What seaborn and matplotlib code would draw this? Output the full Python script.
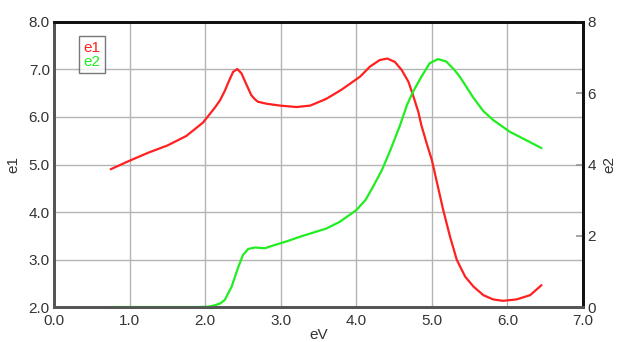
import matplotlib
matplotlib.use("Agg")
import matplotlib.pyplot as plt
import numpy as np
import pandas as pd
import seaborn as sns

sns.set_theme(style="white")
plt.rcParams["font.family"] = ["Liberation Sans", "DejaVu Sans"]

# values
e1_ev = [0.75, 1.0, 1.25, 1.5, 1.75, 1.97, 2.06, 2.13, 2.2, 2.26, 2.31, 2.37,
         2.425, 2.48, 2.55, 2.61, 2.66, 2.7, 2.81, 2.99, 3.21, 3.39, 3.6,
         3.8, 4.05, 4.18, 4.31, 4.41, 4.51, 4.6, 4.69, 4.75, 4.82, 4.86,
         4.93, 5.0, 5.08, 5.15, 5.24, 5.33, 5.44, 5.55, 5.68, 5.81, 5.94,
         6.12, 6.3, 6.45]
e1_val = [4.9, 5.08, 5.25, 5.4, 5.6, 5.88, 6.06, 6.2, 6.36, 6.55, 6.74, 6.95,
          7.01, 6.92, 6.67, 6.46, 6.37, 6.32, 6.28, 6.24, 6.21, 6.24, 6.38,
          6.57, 6.85, 7.06, 7.2, 7.23, 7.16, 6.99, 6.74, 6.46, 6.11, 5.83,
          5.45, 5.09, 4.53, 4.04, 3.48, 2.99, 2.64, 2.43, 2.25, 2.16, 2.13,
          2.16, 2.25, 2.46]

e2_ev = [0.75, 1.0, 1.5, 1.9, 2.05, 2.13, 2.2, 2.26, 2.35, 2.44, 2.5, 2.57,
         2.66, 2.79, 2.92, 3.06, 3.28, 3.6, 3.78, 4.0, 4.12, 4.22, 4.34, 4.45,
         4.58, 4.67, 4.75, 4.86, 4.97, 5.08, 5.19, 5.3, 5.37, 5.45, 5.54,
         5.68, 5.81, 6.03, 6.25, 6.45]
e2_val = [0.0, 0.0, 0.0, 0.0, 0.01, 0.05, 0.1, 0.2, 0.57, 1.13, 1.46, 1.63,
          1.67, 1.65, 1.74, 1.83, 1.99, 2.2, 2.39, 2.72, 3.0, 3.37, 3.85, 4.4,
          5.11, 5.67, 6.04, 6.46, 6.84, 6.96, 6.89, 6.65, 6.46, 6.2, 5.9,
          5.5, 5.25, 4.92, 4.68, 4.46]

df1 = pd.DataFrame({"eV": e1_ev, "e1": e1_val})
df2 = pd.DataFrame({"eV": e2_ev, "e2": e2_val})

fig = plt.figure(figsize=(6.17, 3.42), dpi=100)
ax = fig.add_axes([0.0875, 0.1023, 0.8575, 0.8334])
ax2 = ax.twinx()

sns.lineplot(data=df1, x="eV", y="e1", ax=ax, color="#ff2020", lw=1.6,
             label="e1", legend=False)
sns.lineplot(data=df2, x="eV", y="e2", ax=ax2, color="#20ee20", lw=1.6,
             label="e2", legend=False)
for a in (ax, ax2):
    for ln in a.get_lines():
        ln.set_solid_joinstyle("round")

ax.set_xlim(0, 7)
ax.set_ylim(2, 8)
ax2.set_ylim(0, 8)
xt = np.arange(0, 7.5, 1.0)
yt = np.arange(2, 8.5, 1.0)
ax.set_xticks(xt)
ax.set_xticklabels([f"{v:.1f}" for v in xt])
ax.set_yticks(yt)
ax.set_yticklabels([f"{v:.1f}" for v in yt])
ax2.set_yticks([0, 2, 4, 6, 8])

ax.grid(True, color="#b4b4b4", lw=1)
ax.set_axisbelow(True)
tick_kw = dict(labelsize=11, labelcolor="#333333")
ax.tick_params(axis="y", length=0, pad=3, **tick_kw)
ax.tick_params(axis="x", length=0, pad=5, **tick_kw)
ax2.tick_params(axis="y", direction="in", length=5, color="#999999",
                pad=3, **tick_kw)

ax.set_xlabel("eV", fontsize=11, color="#333333", labelpad=0)
ax.set_ylabel("e1", fontsize=11, color="#333333", labelpad=6)
ax2.set_ylabel("e2", fontsize=11, color="#333333", labelpad=5)

for a in (ax, ax2):
    a.spines["left"].set_color("#555555")
    a.spines["bottom"].set_color("#555555")
    a.spines["top"].set_color("#111111")
    a.spines["right"].set_color("#111111")
    for s in a.spines.values():
        s.set_linewidth(2)
        s.set_visible(True)

h1, l1 = ax.get_legend_handles_labels()
h2, l2 = ax2.get_legend_handles_labels()
leg = ax2.legend(h1 + h2, l1 + l2, loc="upper left",
                 bbox_to_anchor=(0.047, 0.95), handlelength=0,
                 handletextpad=0, fontsize=11, frameon=True, fancybox=False,
                 borderpad=0.3, labelspacing=0.0, borderaxespad=0,
                 labelcolor=["#ff2020", "#20ee20"])
leg.get_frame().set_edgecolor("#555555")
leg.get_frame().set_linewidth(1)
for h in leg.legend_handles:
    h.set_visible(False)

fig.savefig("out.png", dpi=100)
